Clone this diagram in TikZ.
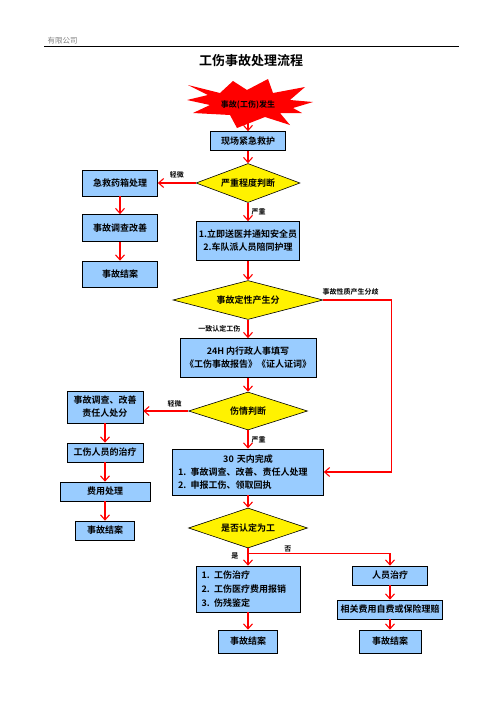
\documentclass[tikz,border=0pt]{standalone}
\usepackage{fontspec}
\setmainfont{Noto Sans CJK SC}[BoldFont={Noto Sans CJK SC Bold}]
\usepackage{tikz}
\usetikzlibrary{shapes.geometric, arrows.meta}
\definecolor{boxblue}{RGB}{153,204,255}

\begin{document}
\begin{tikzpicture}[x=1pt, y=-1pt, font=\bfseries\fontsize{9}{13}\selectfont, thin,
    box/.style = {draw, fill=boxblue, inner sep=0pt, line width=0.7pt},
    judge/.style = {draw, diamond, fill=yellow, inner sep=0pt, line width=0.6pt},
    lbl/.style = {font=\bfseries\fontsize{7}{8}\selectfont, inner sep=1pt},
    arr/.style = {draw=red, line width=1.1pt, -{Straight Barb[length=5pt, width=9pt]}},
    wire/.style = {draw=red, line width=1.1pt}]
                \useasboundingbox (0,0) rectangle (496,702);
                % header and title
                \node[anchor=west, font=\fontsize{7.5}{8}\selectfont, text=gray] (hd) at (44,41) {有限公司};
                \draw[line width=0.9pt] (44,46) -- (459,46);
                \node[font=\bfseries\fontsize{13}{15}\selectfont] (title) at (251,61) {工伤事故处理流程};
                % starburst
                \fill[red] (188,85) -- (220,93) -- (233,81) -- (247,90) -- (268,79) -- (273,93) -- (305,87) -- (290,100)
                    -- (313,102) -- (293,108) -- (302,113) -- (280,113) -- (290,125) -- (265,117) -- (237,128)
                    -- (230,115) -- (193,113) -- (210,105) -- (187,100) -- (208,95) -- cycle;
                \node[font=\bfseries\fontsize{8}{10}\selectfont] (s0) at (248,105) {事故(工伤)发生};
                \coordinate (s0b) at (248,118);
                % main column
                \node[box, minimum width=75pt, minimum height=19pt] (b1) [below of=s0, node distance=36pt] {现场紧急救护};
                \node[judge, shape aspect=2.67, minimum width=104pt, minimum height=39pt] (j1) [below of=b1, node distance=42pt] {严重程度判断};
                \node[box, minimum width=75pt, minimum height=26pt] (b2) [left of=j1, node distance=128pt] {急救药箱处理};
                \node[box, minimum width=75pt, minimum height=27pt] (b3) [below of=b2, node distance=45pt] {事故调查改善};
                \node[box, minimum width=75pt, minimum height=26pt] (e1) [below of=b3, node distance=46pt] {事故结案};
                \node[box, minimum width=103pt, minimum height=39pt, align=center] (b4) [below of=j1, node distance=58pt] {1.立即送医并通知安全员\\2.车队派人员陪同护理};
                \node[judge, shape aspect=3.85, minimum width=150pt, minimum height=39pt] (j2) [below of=b4, node distance=59pt] {事故定性产生分};
                \node[box, minimum width=136pt, minimum height=39pt, align=center] (b5) [below of=j2, node distance=58pt] {24H 内行政人事填写\\《工伤事故报告》《证人证词》};
                \node[judge, shape aspect=3.13, minimum width=119pt, minimum height=38pt] (j3) [below of=b5, node distance=53pt] {伤情判断};
                % left column
                \node[box, minimum width=76pt, minimum height=32pt, align=center] (b6) [left of=j3, node distance=143pt, yshift=4pt] {事故调查、改善\\责任人处分};
                \node[box, minimum width=76pt, minimum height=19pt] (b7) [below of=b6, node distance=45.5pt] {工伤人员的治疗};
                \node[box, minimum width=90pt, minimum height=19pt] (b8) [below of=b7, node distance=39pt] {费用处理};
                \node[box, minimum width=59pt, minimum height=19pt] (e2) [below of=b8, node distance=39pt] {事故结案};
                % lower part
                \node[box, text width=140pt, align=left, minimum height=46pt, inner xsep=5.5pt] (b9) [below of=j3, node distance=61pt] {\makebox[140pt][c]{30 天内完成}\\1. 事故调查、改善、责任人处理\\2. 申报工伤、领取回执};
                \node[judge, shape aspect=2.98, minimum width=119pt, minimum height=40pt] (j4) [below of=b9, node distance=56pt] {是否认定为工};
                \node[box, text width=93pt, align=left, minimum height=46pt, inner xsep=5.5pt, font=\bfseries\fontsize{9}{14}\selectfont] (b10) [below of=j4, node distance=61pt] {1. 工伤治疗\\2. 工伤医疗费用报销\\3. 伤残鉴定};
                \node[box, minimum width=59pt, minimum height=23pt] (e3) [below of=b10, node distance=52.5pt] {事故结案};
                \node[box, minimum width=75pt, minimum height=19pt] (b11) [right of=b10, node distance=142pt, yshift=13.5pt] {人员治疗};
                \node[box, minimum width=105pt, minimum height=19pt] (b12) [below of=b11, node distance=34pt] {相关费用自费或保险理赔};
                \node[box, minimum width=62pt, minimum height=23pt] (e4) [below of=b12, node distance=32pt] {事故结案};
                % connectors
                \draw[arr] (s0b) -- (b1);
                \draw[arr] (b1) -- (j1);
                \draw[arr] (j1) -- node[lbl, above=3pt] {轻微} (b2);
                \draw[arr] (b2) -- (b3);
                \draw[arr] (b3) -- (e1);
                \draw[arr] (j1) -- node[lbl, right=2pt] {严重} (b4);
                \draw[arr] (b4) -- (j2);
                \draw[arr] (j2) -- node[lbl, left=6pt] {一致认定工伤} (b5);
                \draw[arr] (j2.east) -- node[lbl, above=3pt, pos=0.4] {事故性质产生分歧} ++(68,0) |- (b9.east);
                \draw[arr] (b5) -- (j3);
                \draw[arr] (j3.west) -- node[lbl, above=2pt, pos=0.3] {轻微} (j3.west -| b6.east);
                \draw[arr] (b6) -- (b7);
                \draw[arr] (b7) -- (b8);
                \draw[arr] (b8) -- (e2);
                \draw[arr] (j3) -- node[lbl, right=2pt] {严重} (b9);
                \draw[arr] (b9) -- (j4);
                \draw[wire] (j4.south) -- ++(0,5) coordinate (sp);
                \draw[arr] (sp) -- node[lbl, left=8pt, pos=0.25] {是} (b10);
                \draw[arr] (sp) -| node[lbl, above, pos=0.14] {否} (b11);
                \draw[arr] (b10) -- (e3);
                \draw[arr] (b11) -- (b12);
                \draw[arr] (b12) -- (e4);
            \end{tikzpicture}
\end{document}
